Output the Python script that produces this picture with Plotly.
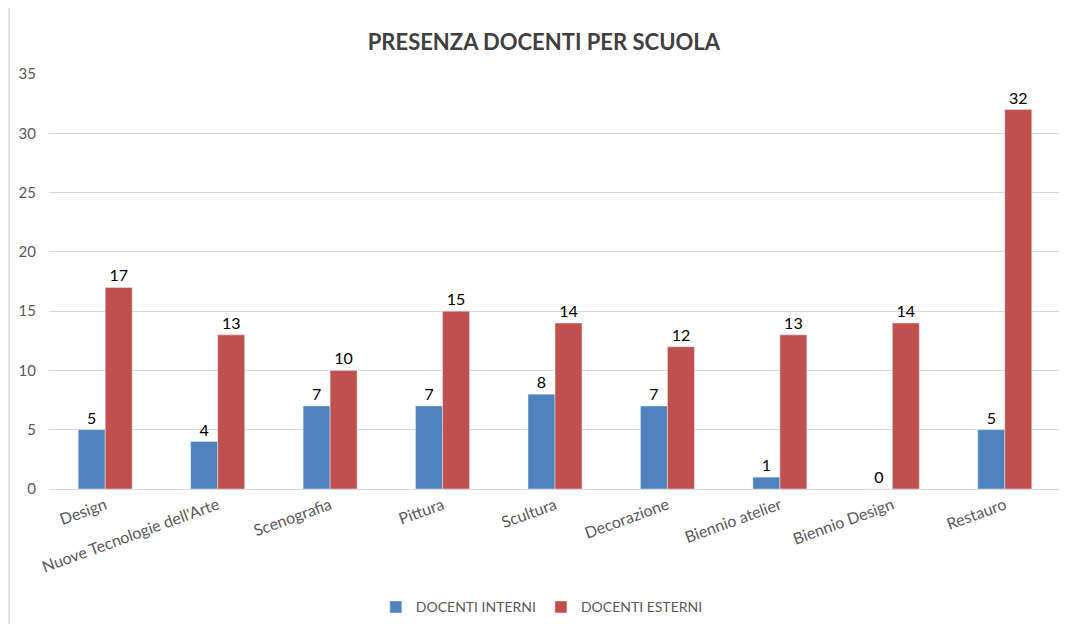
import plotly.graph_objects as go

scuole = ["Design", "Nuove Tecnologie dell'Arte", "Scenografia", "Pittura", "Scultura",
          "Decorazione", "Biennio atelier", "Biennio Design", "Restauro"]
interni = [5, 4, 7, 7, 8, 7, 1, 0, 5]
esterni = [17, 13, 10, 15, 14, 12, 13, 14, 32]

font_main = "Lato, 'Open Sans', sans-serif"

fig = go.Figure()
fig.add_trace(go.Bar(
    x=scuole, y=interni, name="DOCENTI INTERNI",
    marker=dict(color="#4F81BD"),
    text=interni, textposition="outside", cliponaxis=False,
    textfont=dict(size=16, color="#000000"),
))
fig.add_trace(go.Bar(
    x=scuole, y=esterni, name="DOCENTI ESTERNI",
    marker=dict(color="#C0504D"),
    text=esterni, textposition="outside", cliponaxis=False,
    textfont=dict(size=16, color="#000000"),
))

# page body has an 8px margin, so the figure is a bit smaller than the window
fig.update_layout(
    width=1059, height=616,
    paper_bgcolor="white", plot_bgcolor="white",
    barmode="group", bargap=0.52, bargroupgap=0,
    margin=dict(l=41, r=6, t=66, b=135, autoexpand=False),
    font=dict(family=font_main, size=15, color="#595959"),
    title=dict(text="<b>PRESENZA DOCENTI PER SCUOLA</b>", x=0.506, xanchor="center",
               y=0.945, yanchor="middle",
               font=dict(size=22, color="#404040", family=font_main)),
    legend=dict(orientation="h", x=0.487, xanchor="center",
                yref="container", y=0.027, yanchor="middle",
                font=dict(size=14, color="#595959"), itemwidth=30),
    xaxis=dict(tickangle=-20, showgrid=False, showline=True, linecolor="#D9D9D9",
               linewidth=1, automargin=False,
               tickfont=dict(size=16, color="#595959")),
    yaxis=dict(range=[0, 35], dtick=5, showgrid=True, gridcolor="#D9D9D9",
               zeroline=False, ticklabelstandoff=12, automargin=False,
               tickfont=dict(size=15, color="#595959")),
    shapes=[dict(type="line", xref="paper", yref="paper",
                 x0=-40 / 1012, x1=-40 / 1012, y0=-135 / 415, y1=1 + 66 / 415,
                 line=dict(color="#D9D9D9", width=1.5))],
)

fig.write_html("out.html")
